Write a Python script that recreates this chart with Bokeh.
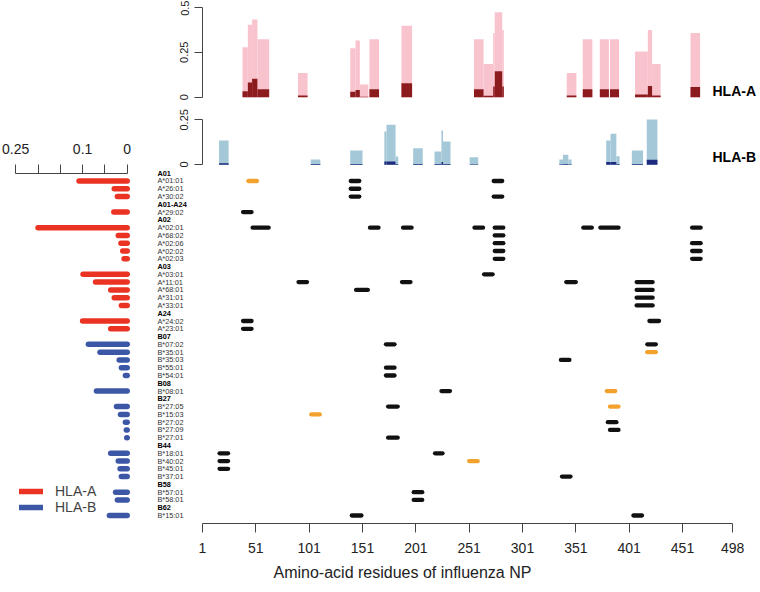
from bokeh.plotting import figure
from bokeh.models import (ColumnDataSource, Range1d, LinearAxis, FixedTicker,
                          Legend, LegendItem, Title, Spacer)
from bokeh.layouts import row, column
from bokeh.embed import file_html
from bokeh.resources import INLINE
from bokeh.core.properties import value

# ------------------------------------------------------------------ data
row_labels = ["A01", "A*01:01", "A*26:01", "A*30:02", "A01-A24", "A*29:02",
              "A02", "A*02:01", "A*68:02", "A*02:06", "A*02:02", "A*02:03",
              "A03", "A*03:01", "A*11:01", "A*68:01", "A*31:01", "A*33:01",
              "A24", "A*24:02", "A*23:01",
              "B07", "B*07:02", "B*35:01", "B*35:03", "B*55:01", "B*54:01",
              "B08", "B*08:01",
              "B27", "B*27:05", "B*15:03", "B*27:02", "B*27:09", "B*27:01",
              "B44", "B*18:01", "B*40:02", "B*45:01", "B*37:01",
              "B58", "B*57:01", "B*58:01",
              "B62", "B*15:01"]

# allele frequency, in the order the alleles appear in row_labels
allele_freq = [0.108, 0.029, 0.022, 0.030,
               0.200, 0.020, 0.014, 0.010, 0.007,
               0.099, 0.071, 0.037, 0.029, 0.013,
               0.100, 0.037,
               0.087, 0.061, 0.018, 0.013, 0.004,
               0.069,
               0.024, 0.015, 0.004, 0.002, 0.001,
               0.037, 0.020, 0.016, 0.013,
               0.026, 0.022,
               0.040]

# epitopes: allele, first residue, last residue, novel (orange) or known
epi_allele = ["A*01:01", "A*01:01", "A*01:01", "A*26:01", "A*30:02", "A*30:02",
              "A*29:02",
              "A*02:01", "A*02:01", "A*02:01", "A*02:01", "A*02:01", "A*02:01",
              "A*02:01", "A*02:01",
              "A*68:02", "A*02:06", "A*02:06", "A*02:02", "A*02:02", "A*02:03", "A*02:03",
              "A*03:01", "A*11:01", "A*11:01", "A*11:01", "A*11:01",
              "A*68:01", "A*68:01", "A*31:01", "A*33:01",
              "A*24:02", "A*24:02", "A*23:01",
              "B*07:02", "B*07:02", "B*35:01", "B*35:03", "B*55:01", "B*54:01",
              "B*08:01", "B*08:01", "B*27:05", "B*27:05", "B*15:03",
              "B*27:02", "B*27:09", "B*27:01",
              "B*18:01", "B*18:01", "B*40:02", "B*40:02", "B*45:01", "B*37:01",
              "B*57:01", "B*58:01", "B*15:01", "B*15:01"]
epi_start = [44, 140, 274, 140, 140, 274,
             39,
             48, 158, 189, 256, 275, 358, 374, 460,
             275, 275, 460, 275, 460, 275, 460,
             265, 91, 188, 342, 408,
             145, 408, 408, 408,
             39, 420, 39,
             173, 418, 418, 337, 173, 173,
             225, 380, 175, 383, 103,
             381, 383, 175,
             17, 219, 17, 251, 17, 338,
             199, 199, 141, 405]
epi_end = [52, 148, 282, 148, 148, 282,
           47,
           63, 166, 197, 264, 283, 366, 391, 468,
           283, 283, 468, 283, 468, 283, 468,
           273, 99, 196, 351, 423,
           156, 423, 423, 423,
           47, 429, 47,
           181, 426, 426, 345, 181, 181,
           233, 388, 184, 391, 111,
           389, 391, 184,
           25, 226, 25, 259, 25, 346,
           207, 207, 150, 413]
epi_novel = [True, False, False, False, False, False,
             False,
             False, False, False, False, False, False, False, False,
             False, False, False, False, False, False, False,
             False, False, False, False, False,
             False, False, False, False,
             False, False, False,
             False, False, True, False, False, False,
             False, True, False, True, True,
             False, False, False,
             False, False, False, True, False, False,
             False, False, False, False]

# coverage histograms (residue blocks)
hlaA_from = [38.5, 43.5, 47.5, 52.5, 90.5, 139.5, 144.5, 148.5, 157.5, 187.5,
             255.5, 264.5, 273.5, 275, 282, 342.5, 357.5, 373.5, 383, 406.5,
             418.5, 422.5, 458.5]
hlaA_to = [43.5, 47.5, 52.5, 63.5, 99.5, 144.5, 148.5, 156.5, 166.5, 197.5,
           264.5, 273.5, 275, 282, 283.5, 351.5, 366.5, 382, 391.5, 418.5,
           422.5, 430.5, 467.5]
hlaA_all = [0.278, 0.402, 0.432, 0.322, 0.135, 0.272, 0.315, 0.07, 0.322, 0.397,
            0.322, 0.185, 0.356, 0.472, 0.374, 0.135, 0.322, 0.322, 0.322, 0.254,
            0.374, 0.185, 0.356]
hlaA_dark = [0.033, 0.082, 0.102, 0.044, 0.01, 0.03, 0.04, 0.003, 0.044, 0.078,
             0.044, 0.008, 0.06, 0.144, 0.06, 0.01, 0.044, 0.044, 0.044, 0.015,
             0.062, 0.01, 0.056]

hlaB_from = [16.5, 102.5, 139.5, 171.5, 173.5, 182, 198.5, 218.5, 225, 226.5,
             251.5, 335.5, 339, 344, 379.5, 383.5, 389, 403.5, 417.5]
hlaB_to = [25.5, 111.5, 151, 173.5, 182, 184.5, 207.5, 225, 226.5, 233.5,
           259.5, 339, 344, 347, 383.5, 389, 392, 414, 427.5]
hlaB_all = [0.135, 0.03, 0.08, 0.185, 0.222, 0.046, 0.092, 0.074, 0.19, 0.13,
            0.042, 0.03, 0.056, 0.03, 0.135, 0.172, 0.048, 0.08, 0.252]
hlaB_dark = [0.008, 0.004, 0.005, 0.018, 0.018, 0.005, 0.005, 0.005, 0.015, 0.005,
             0.003, 0.003, 0.004, 0.003, 0.015, 0.015, 0.005, 0.004, 0.028]

x_ticks = [1, 51, 101, 151, 201, 251, 301, 351, 401, 451, 498]
freq_ticks = [0, 0.05, 0.1, 0.15, 0.2, 0.25]
freq_tick_text = {0: "0", 0.05: "", 0.1: "0.1", 0.15: "", 0.2: "", 0.25: "0.25"}
hlaA_ticks = [0, 0.25, 0.5]
hlaA_tick_text = {0: "0", 0.25: "0.25", 0.5: "0.5"}
hlaB_ticks = [0, 0.25]
hlaB_tick_text = {0: "0", 0.25: "0.25"}

# ------------------------------------------------------------------ style
FONT = "Liberation Sans"
RED, BLUE = "#EA3323", "#3D57A7"
PINK, DARKRED = "#F9C3CD", "#8C1B1E"
LBLUE, DBLUE = "#A4C8D7", "#1E2C80"
BLACK, ORANGE = "#111111", "#F2A22C"
AX = "#444444"

# layout helpers (screen position -> data value)
K = 480.0 / 450.0
def res_at(px):
    return 1.0 + (px - 202.0) / K
ROW0, ROWH = 172.7, 7.78
def row_at(py):
    return (py - ROW0) / ROWH
def freq_at(px):
    return (126.7 - px) / 446.0
S = 180.0


def style_axis(ax, size):
    ax.axis_line_color = AX
    ax.major_tick_line_color = AX
    ax.minor_tick_line_color = None
    ax.major_tick_in = 0
    ax.major_label_text_font = FONT
    ax.major_label_text_font_size = size
    ax.major_label_text_color = "#222222"


def base_fig(**kw):
    p = figure(x_axis_type=None, y_axis_type=None, toolbar_location=None,
               output_backend="svg", title=None, **kw)
    p.frame_align = False
    p.outline_line_color = None
    p.background_fill_color = None
    p.border_fill_color = None
    return p


# ------------------------------------------------------------------ left: allele frequency
lf = base_fig(frame_width=150, frame_height=418, min_border_left=0, min_border_right=0,
              min_border_top=40, min_border_bottom=0,
              x_range=Range1d(freq_at(0), freq_at(150)),
              y_range=Range1d(row_at(591), row_at(173)))
alleles = [lab for lab in row_labels if "*" in lab]
idx = {lab: i for i, lab in enumerate(row_labels)}
srcs = {}
for cls in ("A", "B"):
    ys = [idx[a] for a in alleles if a[0] == cls]
    vs = [f for a, f in zip(alleles, allele_freq) if a[0] == cls]
    srcs[cls] = ColumnDataSource(dict(x0=[0] * len(ys), x1=vs, y=ys))
rA = lf.segment(x0="x0", x1="x1", y0="y", y1="y", source=srcs["A"],
                line_color=RED, line_width=5.5, line_cap="round")
rB = lf.segment(x0="x0", x1="x1", y0="y", y1="y", source=srcs["B"],
                line_color=BLUE, line_width=5.5, line_cap="round")
fax = LinearAxis(ticker=FixedTicker(ticks=freq_ticks, minor_ticks=[]), bounds=(0, 0.25),
                 major_label_overrides=freq_tick_text)
style_axis(fax, "14px")
fax.major_tick_out = 9
fax.major_label_standoff = 11
lf.add_layout(fax, "above")
leg = Legend(items=[LegendItem(label="HLA-A", renderers=[rA]),
                    LegendItem(label="HLA-B", renderers=[rB])],
             location=(19, 76), orientation="vertical", padding=0, margin=0, spacing=0,
             glyph_width=24, glyph_height=16, label_height=16, label_standoff=12,
             label_text_font=FONT, label_text_font_size="14px",
             background_fill_alpha=0, border_line_alpha=0)
lf.add_layout(leg, "center")

# ------------------------------------------------------------------ HLA-A coverage
hA = base_fig(frame_width=556, frame_height=100, min_border_left=52, min_border_right=0,
              min_border_top=0, min_border_bottom=0,
              x_range=Range1d(res_at(202), res_at(758)),
              y_range=Range1d((96.7 - 100.0) / S, 96.7 / S))
hA.quad(left=hlaA_from, right=hlaA_to, bottom=0, top=hlaA_all, fill_color=PINK, line_color=None)
hA.quad(left=hlaA_from, right=hlaA_to, bottom=0, top=hlaA_dark, fill_color=DARKRED, line_color=None)
aax = LinearAxis(ticker=FixedTicker(ticks=hlaA_ticks, minor_ticks=[]), bounds=(0, 0.5),
                 major_label_overrides=hlaA_tick_text, major_label_orientation="parallel")
style_axis(aax, "11px")
aax.major_tick_out = 8
aax.major_label_standoff = 6
hA.add_layout(aax, "left")
hA.text(x=[res_at(712)], y=[(96.7 - 90.0) / S], text=["HLA-A"], text_font=value(FONT),
        text_font_size="14px", text_font_style="bold", text_align="left",
        text_baseline="middle", text_color="#000000")

# ------------------------------------------------------------------ HLA-B coverage
hB = base_fig(frame_width=556, frame_height=55, min_border_left=52, min_border_right=0,
              min_border_top=12, min_border_bottom=0,
              x_range=Range1d(res_at(202), res_at(758)),
              y_range=Range1d((164.3 - 167.0) / S, (164.3 - 112.0) / S))
hB.quad(left=hlaB_from, right=hlaB_to, bottom=0, top=hlaB_all, fill_color=LBLUE, line_color=None)
hB.quad(left=hlaB_from, right=hlaB_to, bottom=0, top=hlaB_dark, fill_color=DBLUE, line_color=None)
bax = LinearAxis(ticker=FixedTicker(ticks=hlaB_ticks, minor_ticks=[]), bounds=(0, 0.25),
                 major_label_overrides=hlaB_tick_text, major_label_orientation="parallel")
style_axis(bax, "11px")
bax.major_tick_out = 8
bax.major_label_standoff = 6
hB.add_layout(bax, "left")
hB.text(x=[res_at(712)], y=[(164.3 - 156.7) / S], text=["HLA-B"], text_font=value(FONT),
        text_font_size="14px", text_font_style="bold", text_align="left",
        text_baseline="middle", text_color="#000000")

# ------------------------------------------------------------------ main epitope map
mf = base_fig(frame_width=603, frame_height=356, min_border_left=5, min_border_right=0,
              min_border_top=0, min_border_bottom=68,
              x_range=Range1d(res_at(155), res_at(758)),
              y_range=Range1d(row_at(523), row_at(167)))
esrc = ColumnDataSource(dict(x0=epi_start, x1=epi_end,
                             y=[idx[a] for a in epi_allele],
                             c=[ORANGE if n else BLACK for n in epi_novel]))
mf.segment(x0="x0", x1="x1", y0="y", y1="y", source=esrc, line_color="c",
           line_width=4.3, line_cap="round")
hdr = [(i, lab) for i, lab in enumerate(row_labels) if "*" not in lab]
alr = [(i, lab) for i, lab in enumerate(row_labels) if "*" in lab]
lx = res_at(157)
mf.text(x=[lx] * len(hdr), y=[i for i, _ in hdr], text=[l for _, l in hdr],
        text_font=value(FONT), text_font_size="7.3px", text_font_style="bold",
        text_align="left", text_baseline="middle", text_color="#000000")
mf.text(x=[lx] * len(alr), y=[i for i, _ in alr], text=[l for _, l in alr],
        text_font=value(FONT), text_font_size="7.3px",
        text_align="left", text_baseline="middle", text_color="#333333")
xax = LinearAxis(ticker=FixedTicker(ticks=x_ticks, minor_ticks=[]), bounds=(1, 498))
style_axis(xax, "14px")
xax.major_tick_out = 9
xax.major_label_standoff = 10
mf.add_layout(xax, "below")
mf.add_layout(Title(text="Amino-acid residues of influenza NP", align="left", offset=118,
                    text_font=FONT, text_font_size="16px", text_font_style="normal",
                    text_color="#222222", standoff=12), "below")

layout = row(column(Spacer(width=150, height=133), lf), column(hA, hB, mf))

open("out.html", "w").write(file_html(layout, INLINE))
